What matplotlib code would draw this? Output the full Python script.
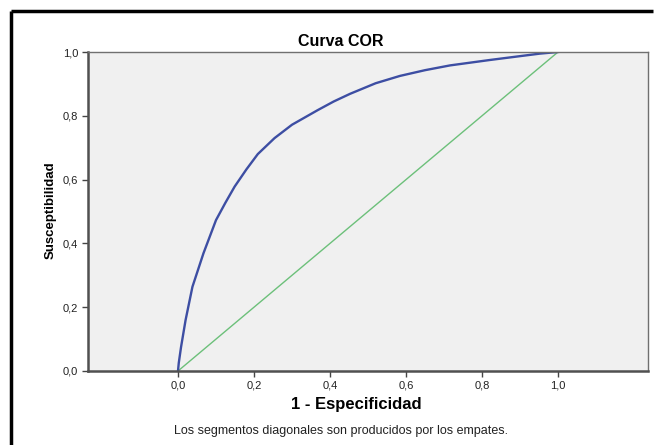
import matplotlib.pyplot as plt
from matplotlib.lines import Line2D
from matplotlib.ticker import FuncFormatter

plt.rcParams['font.family'] = ['Liberation Sans', 'DejaVu Sans']

# ROC curve points
fpr = [0.0, 0.002, 0.008, 0.02, 0.038, 0.067, 0.10, 0.125, 0.149, 0.18,
       0.21, 0.254, 0.30, 0.368, 0.41, 0.453, 0.52, 0.584, 0.65, 0.716,
       0.821, 0.90, 0.953, 1.0]
tpr = [0.0, 0.025, 0.075, 0.16, 0.264, 0.369, 0.473, 0.528, 0.578, 0.632,
       0.680, 0.730, 0.772, 0.818, 0.845, 0.869, 0.902, 0.925, 0.943, 0.958,
       0.975, 0.987, 0.995, 1.0]
ref_x = [0.0, 1.0]
ref_y = [0.0, 1.0]
ticks = [0.0, 0.2, 0.4, 0.6, 0.8, 1.0]

W, H = 654, 445
fig = plt.figure(figsize=(W / 100, H / 100), dpi=100)
fig.patch.set_facecolor('white')

# black frame, only top and left edges show in the crop
fig.add_artist(Line2D([10.5 / W, 653 / W], [1 - 10.5 / H, 1 - 10.5 / H],
                      transform=fig.transFigure, color='black', linewidth=2.5,
                      solid_capstyle='butt'))
fig.add_artist(Line2D([10.5 / W, 10.5 / W], [0.0, 1 - 10.5 / H],
                      transform=fig.transFigure, color='black', linewidth=2.5,
                      solid_capstyle='butt'))

ax = fig.add_axes([88 / W, 1 - 371 / H, (648 - 88) / W, (371 - 52) / H])
ax.set_facecolor('#f0f0f0')

ax.plot(ref_x, ref_y, color='#6cc07a', linewidth=1.0)
ax.plot(fpr, tpr, color='#3d4ea3', linewidth=1.7)

ax.set_xlim((88 - 178) / 380, (648 - 178) / 380)
ax.set_ylim(0, 1)
ax.set_xticks(ticks)
ax.set_yticks(ticks)
fmt = FuncFormatter(lambda v, p: f'{v:.1f}'.replace('.', ','))
ax.xaxis.set_major_formatter(fmt)
ax.yaxis.set_major_formatter(fmt)
ax.tick_params(direction='out', length=4, width=1, color='#444444',
               labelsize=8, labelcolor='#222222', pad=3)

for side in ['left', 'bottom']:
    ax.spines[side].set_color('#505050')
    ax.spines[side].set_linewidth(1.8)
for side in ['top', 'right']:
    ax.spines[side].set_color('#707070')
    ax.spines[side].set_linewidth(1.0)

fig.text(356 / W, 1 - 404 / H, '1 - Especificidad', fontsize=12,
         fontweight='bold', ha='center', va='center')
fig.text(51 / W, 1 - 210 / H, 'Susceptibilidad', fontsize=9.5,
         fontweight='bold', ha='center', va='center', rotation=90)

fig.text(341 / W, 1 - 41 / H, 'Curva COR', fontsize=11.5, fontweight='bold',
         ha='center', va='center')
fig.text(341 / W, 1 - 431 / H,
         'Los segmentos diagonales son producidos por los empates.',
         fontsize=9, ha='center', va='center', color='#222222')

fig.savefig('out.png', dpi=100)
